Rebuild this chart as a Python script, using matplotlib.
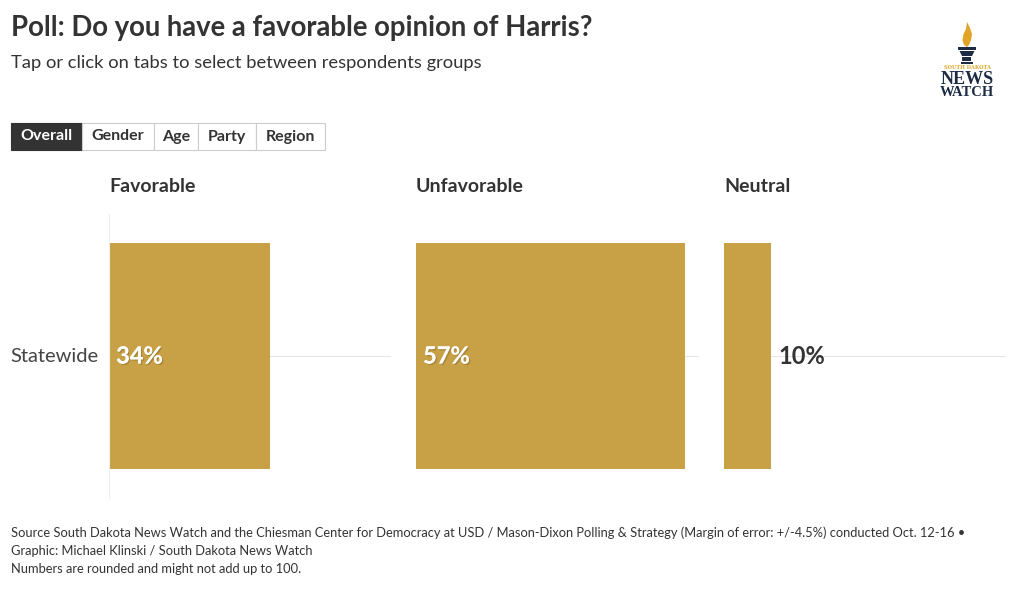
import matplotlib
matplotlib.use("Agg")
import matplotlib.pyplot as plt
from matplotlib.patches import Rectangle, Polygon
import matplotlib.patheffects as pe

plt.rcParams['font.family'] = ['Lato', 'DejaVu Sans']

# data
groups = ['Statewide']
columns = ['Favorable', 'Unfavorable', 'Neutral']
values = [34, 57, 10]
tabs = ['Overall', 'Gender', 'Age', 'Party', 'Region']

bar_color = '#c8a146'
text_color = '#333333'
grid_color = '#e6e6e6'

W, H = 1020, 589
fig = plt.figure(figsize=(W / 100, H / 100), dpi=100)


def fx(px):
    return px / W


def fy(py):
    return 1 - py / H


# title
fig.text(fx(11), fy(28), 'Poll: Do you have a favorable opinion of Harris?',
         fontsize=19.8, fontweight='bold', color=text_color, va='center')
fig.text(fx(11), fy(63), 'Tap or click on tabs to select between respondents groups',
         fontsize=13.2, color=text_color, va='center')

# tabs
tab_edges = [11, 82, 154, 198, 256, 325]
for i, t in enumerate(tabs):
    x0, x1 = tab_edges[i], tab_edges[i + 1]
    active = i == 0
    fig.patches.append(Rectangle((fx(x0), fy(150)), fx(x1 - x0), (150 - 123) / H,
                                 transform=fig.transFigure,
                                 facecolor='#333333' if active else 'white',
                                 edgecolor='#333333' if active else '#cccccc',
                                 linewidth=0.8))
    fig.text(fx((x0 + x1) / 2), fy(136.5), t, fontsize=11.5, fontweight='bold',
             color='white' if active else text_color, ha='center', va='center')

# panels
panel_left = [109, 416, 724]
panel_w = 282
xmax = 59.7
for j, col in enumerate(columns):
    ax = fig.add_axes([fx(panel_left[j]), fy(498), fx(panel_w), (498 - 214) / H])
    ax.set_xlim(0, xmax)
    ax.set_ylim(-0.631, 0.631)
    ax.axhline(0, color=grid_color, lw=0.8, zorder=0)
    ax.barh([0], [values[j]], height=1.0, color=bar_color, zorder=2)
    for s in ax.spines.values():
        s.set_visible(False)
    if j == 0:
        ax.spines['left'].set_visible(True)
        ax.spines['left'].set_color('#eeeeee')
        ax.spines['left'].set_linewidth(0.8)
    ax.set_xticks([])
    ax.set_yticks([])
    ax.patch.set_alpha(0)
    v = values[j]
    if v >= 20:
        ax.text(1.5, 0, f'{v}%', fontsize=17, fontweight='bold', color='white',
                va='center', ha='left', zorder=3,
                path_effects=[pe.withSimplePatchShadow(offset=(1, -1), shadow_rgbFace='#8a6d2a', alpha=0.5),
                              pe.Normal()])
    else:
        ax.text(v + 1.5, 0, f'{v}%', fontsize=17, fontweight='bold', color=text_color,
                va='center', ha='left', zorder=3)
    fig.text(fx(panel_left[j]), fy(187), col, fontsize=14, fontweight='bold',
             color=text_color, va='center')

fig.text(fx(98), fy(357), groups[0], fontsize=14.5, color='#444444', ha='right', va='center')

# footer
fig.text(fx(11), fy(533), 'Source South Dakota News Watch and the Chiesman Center for Democracy at USD / '
         'Mason-Dixon Polling & Strategy (Margin of error: +/-4.5%) conducted Oct. 12-16 \u2022',
         fontsize=9.3, color=text_color, va='center')
fig.text(fx(11), fy(551), 'Graphic: Michael Klinski / South Dakota News Watch',
         fontsize=9.3, color=text_color, va='center')
fig.text(fx(11), fy(569), 'Numbers are rounded and might not add up to 100.',
         fontsize=9.3, color=text_color, va='center')

# logo
navy = '#1d2b44'
gold = '#e0a526'
lax = fig.add_axes([fx(934), fy(100), fx(66), 80 / H])
lax.set_xlim(0, 66)
lax.set_ylim(100, 20)
lax.axis('off')
# flame
lax.add_patch(Polygon([[33, 22], [36, 28], [38, 34], [37, 40], [35, 45], [33, 47], [30, 45],
                       [28.5, 40], [29.5, 34], [32, 29]],
                      closed=True, facecolor=gold, edgecolor='none'))
# cup
lax.add_patch(Rectangle((24, 47), 18, 2.5, facecolor=navy))
lax.add_patch(Polygon([[25.5, 51], [40.5, 51], [38, 56], [28, 56]], closed=True, facecolor=navy))
lax.add_patch(Rectangle((28.5, 56.5), 9, 5, facecolor=navy))
lax.add_patch(Rectangle((27, 62), 12, 1.8, facecolor=navy))
lax.text(33, 67.5, 'SOUTH DAKOTA', fontsize=3.6, color=gold, ha='center', va='center',
         family='DejaVu Serif', fontweight='bold')
lax.text(33, 79.5, 'NEWS', fontsize=13, color=navy, ha='center', va='center',
         family=['Liberation Serif', 'DejaVu Serif'], fontweight='bold')
lax.text(33, 92.5, 'WATCH', fontsize=10.5, color=navy, ha='center', va='center',
         family=['Liberation Serif', 'DejaVu Serif'], fontweight='bold')

fig.savefig('out.png', dpi=100, facecolor='white')
